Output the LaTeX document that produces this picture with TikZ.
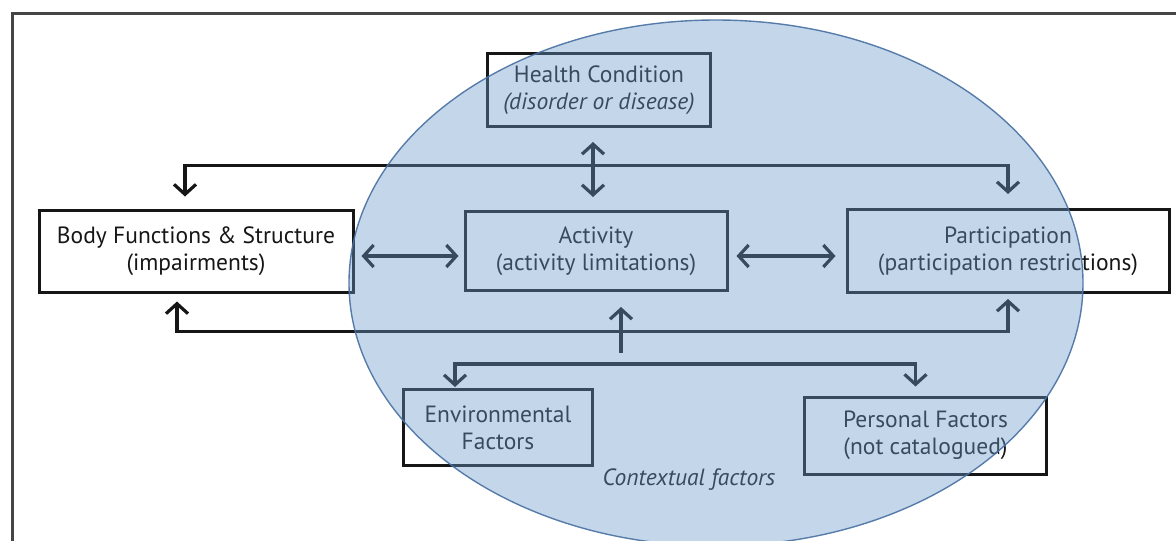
\documentclass[tikz,border=0pt]{standalone}
\usepackage{fontspec}
\setmainfont{PT Sans}
\usetikzlibrary{arrows.meta,positioning}
\definecolor{ink}{RGB}{22,22,22}
\definecolor{ctxfill}{RGB}{108,153,202}
\definecolor{ctxedge}{RGB}{72,112,162}
\tikzset{
	box/.style={draw=ink, line width=3pt, align=center, inner sep=0pt, text=ink, font=\fontsize{23.5}{27}\selectfont},
	link/.style={draw=ink, line width=3.2pt, <->},
	fwd/.style={draw=ink, line width=3.2pt, ->},
	frame/.style={draw=ink!80, line width=3pt},
	context/.style={fill=ctxfill, fill opacity=0.4, draw=ctxedge, draw opacity=0.9, line width=1.4pt},
	note/.style={text=ink, font=\fontsize{23.5}{27}\selectfont\itshape}
}
\begin{document}
\begin{tikzpicture}[x=1pt, y=1pt, >={Straight Barb[length=10pt,width=22pt]}]
	\useasboundingbox (0,0) rectangle (1176,-541);
	\clip (0,0) rectangle (1176,-541);
	\draw[frame] (1176,-13) -| (12,-541);
	\node[box, minimum width=314pt, minimum height=82pt] (body) at (196,-251) {Body Functions \& Structure\\(impairments)};
	\node[box, minimum width=262pt, minimum height=79pt, right=109pt of body] (act) {Activity\\(activity limitations)};
	\node[box, minimum width=322pt, minimum height=83pt, right=117pt of act] (part) {Participation\\(participation restrictions)};
	\node[box, minimum width=223pt, minimum height=73pt, above=82pt of act, xshift=3pt] (health) {Health Condition\\\textit{(disorder or disease)}};
	\node[box, minimum width=189pt, minimum height=76pt, below=96pt of act, xshift=-98pt] (env) {Environmental\\Factors};
	\node[box, minimum width=242pt, minimum height=77pt, right=209pt of env, yshift=-8pt] (pers) {Personal Factors\\(not catalogued)};
	\node[note] (ctx) at (689,-480) {Contextual factors};
	\coordinate (join) at ([xshift=25pt, yshift=-61pt]act.south);
	\draw[link, shorten <=14pt, shorten >=13pt] ([xshift=-6pt]health.south) -- ([xshift=-3pt]act.north);
	\draw[link, shorten <=12pt, shorten >=14pt] ([xshift=-11pt]body.north) -- ++(0,43) -| (part.north);
	\draw[link, shorten <=8pt, shorten >=5pt] ([xshift=-19pt]body.south) -- ++(0,-38) -| (part.south);
	\draw[link, shorten <=7pt, shorten >=5pt] ([yshift=-5pt]body.east) -- ([yshift=-5pt]act.west);
	\draw[link, shorten <=8pt, shorten >=10pt] ([yshift=-5pt]act.east) -- ([yshift=-5pt]part.west);
	\draw[fwd, shorten >=15pt] (join) -- ([xshift=25pt]act.south);
	\draw[link, shorten <=1pt, shorten >=9pt] ([xshift=-43pt]env.north) -- ++(0,24) -| ([xshift=-10pt]pers.north);
	\path[context] (716,-283) ellipse [x radius=367, y radius=263];
\end{tikzpicture}
\end{document}
